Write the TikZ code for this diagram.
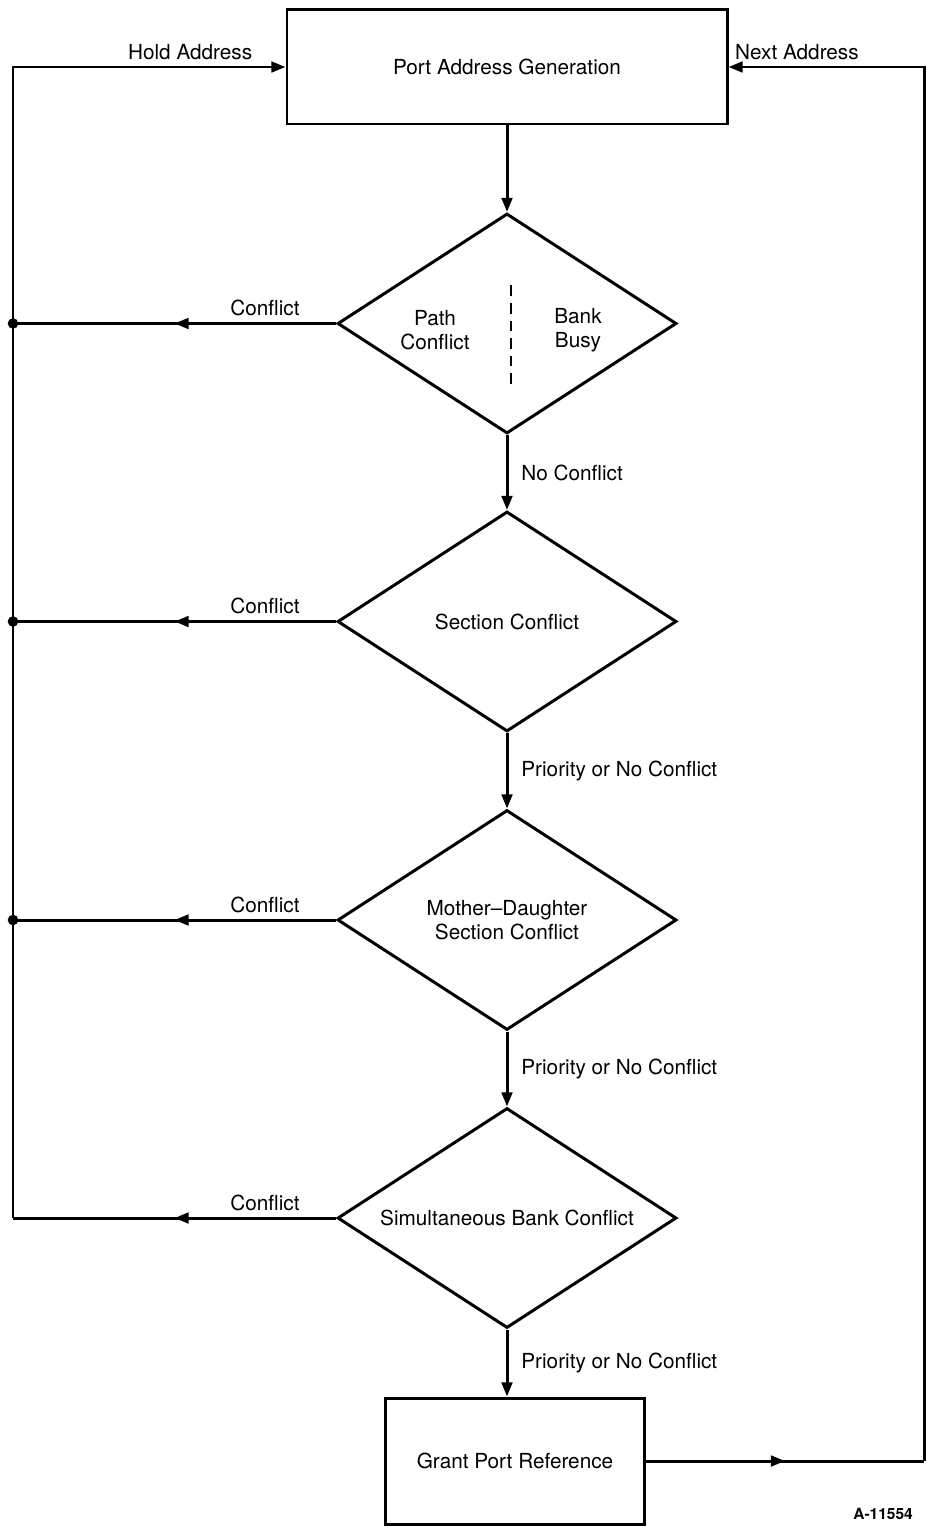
\documentclass[tikz,border=0pt]{standalone}
\usepackage{fontspec}
\setmainfont{TeX Gyre Heros}
\usetikzlibrary{shapes.geometric, arrows.meta, decorations.markings, calc}

\begin{document}
\begin{tikzpicture}[line width=1.7pt, font=\fontsize{11.8}{13.6}\selectfont,
    block/.style = {draw, rectangle, inner sep=0pt},
    decision/.style = {draw, diamond, aspect=1.54, minimum width=6.78cm, minimum height=4.4cm, inner sep=0pt, align=center},
    arr/.style = {-{Triangle[length=8pt, width=6pt]}},
    midarrow/.style = {decoration={markings, mark=at position 0.5 with {\arrow{Triangle[open, length=8pt, width=6pt]}}}, postaction={decorate}},
    dot/.style = {circle, fill, inner sep=0pt, minimum size=6pt}]
  \useasboundingbox (0,0) rectangle (18.52,-30.52);

  \node[block, minimum width=8.8cm, minimum height=2.28cm] (port) at (10.14,-1.34) {Port Address Generation};
  \node[decision] (d1) at (10.14,-6.47) {};
  \node[align=center] (pathc) at (8.7,-6.6) {Path\\Conflict};
  \node[align=center] (busy) at (11.56,-6.6) {Bank\\Busy};
  \draw[dash pattern=on 6pt off 4pt, line width=1.3pt] ($(d1.center)+(0.08,0.76)$) -- ($(d1.center)+(0.08,-1.24)$);
  \node[decision] (d2) at (10.14,-12.43) {Section Conflict};
  \node[decision] (d3) at (10.14,-18.40) {Mother--Daughter\\Section Conflict};
  \node[decision] (d4) at (10.14,-24.36) {Simultaneous Bank Conflict};
  \node[block, minimum width=5.18cm, minimum height=2.52cm] (grant) at (10.30,-29.22) {Grant Port Reference};

  % return paths
  \coordinate (ctop) at (0.26,-1.34);
  \coordinate (c1) at (ctop |- d1.west);
  \coordinate (c2) at (ctop |- d2.west);
  \coordinate (c3) at (ctop |- d3.west);
  \coordinate (c4) at (ctop |- d4.west);
  \coordinate (ctr) at (18.48,-1.34);
  \coordinate (cbr) at (ctr |- grant.east);

  \draw[arr] (port) -- (d1);
  \draw[arr] (d1) -- node[right=4pt] {No Conflict} (d2);
  \draw[arr] (d2) -- node[right=4pt] {Priority or No Conflict} (d3);
  \draw[arr] (d3) -- node[right=4pt] {Priority or No Conflict} (d4);
  \draw[arr] (d4) -- node[right=4pt] {Priority or No Conflict} (d4.south |- grant.north);

  \draw[midarrow] (d1.west) -- node[above, pos=0.22] {Conflict} (c1);
  \draw[midarrow] (d2.west) -- node[above, pos=0.22] {Conflict} (c2);
  \draw[midarrow] (d3.west) -- node[above, pos=0.22] {Conflict} (c3);
  \draw[midarrow] (d4.west) -- node[above, pos=0.22] {Conflict} (c4);
  \draw[arr] (c4) -- (ctop) -- node[above, pos=0.65] {Hold Address} (port.west);
  \node[dot] at (c1) {};
  \node[dot] at (c2) {};
  \node[dot] at (c3) {};

  \draw[midarrow] (grant.east) -- (cbr);
  \draw[arr] (cbr) -- (ctr) -- node[above, pos=0.65] {Next Address} (port.east);

  \node[font=\fontsize{8.8}{10}\selectfont\bfseries] (fig) at (17.66,-30.28) {A-11554};
\end{tikzpicture}
\end{document}
